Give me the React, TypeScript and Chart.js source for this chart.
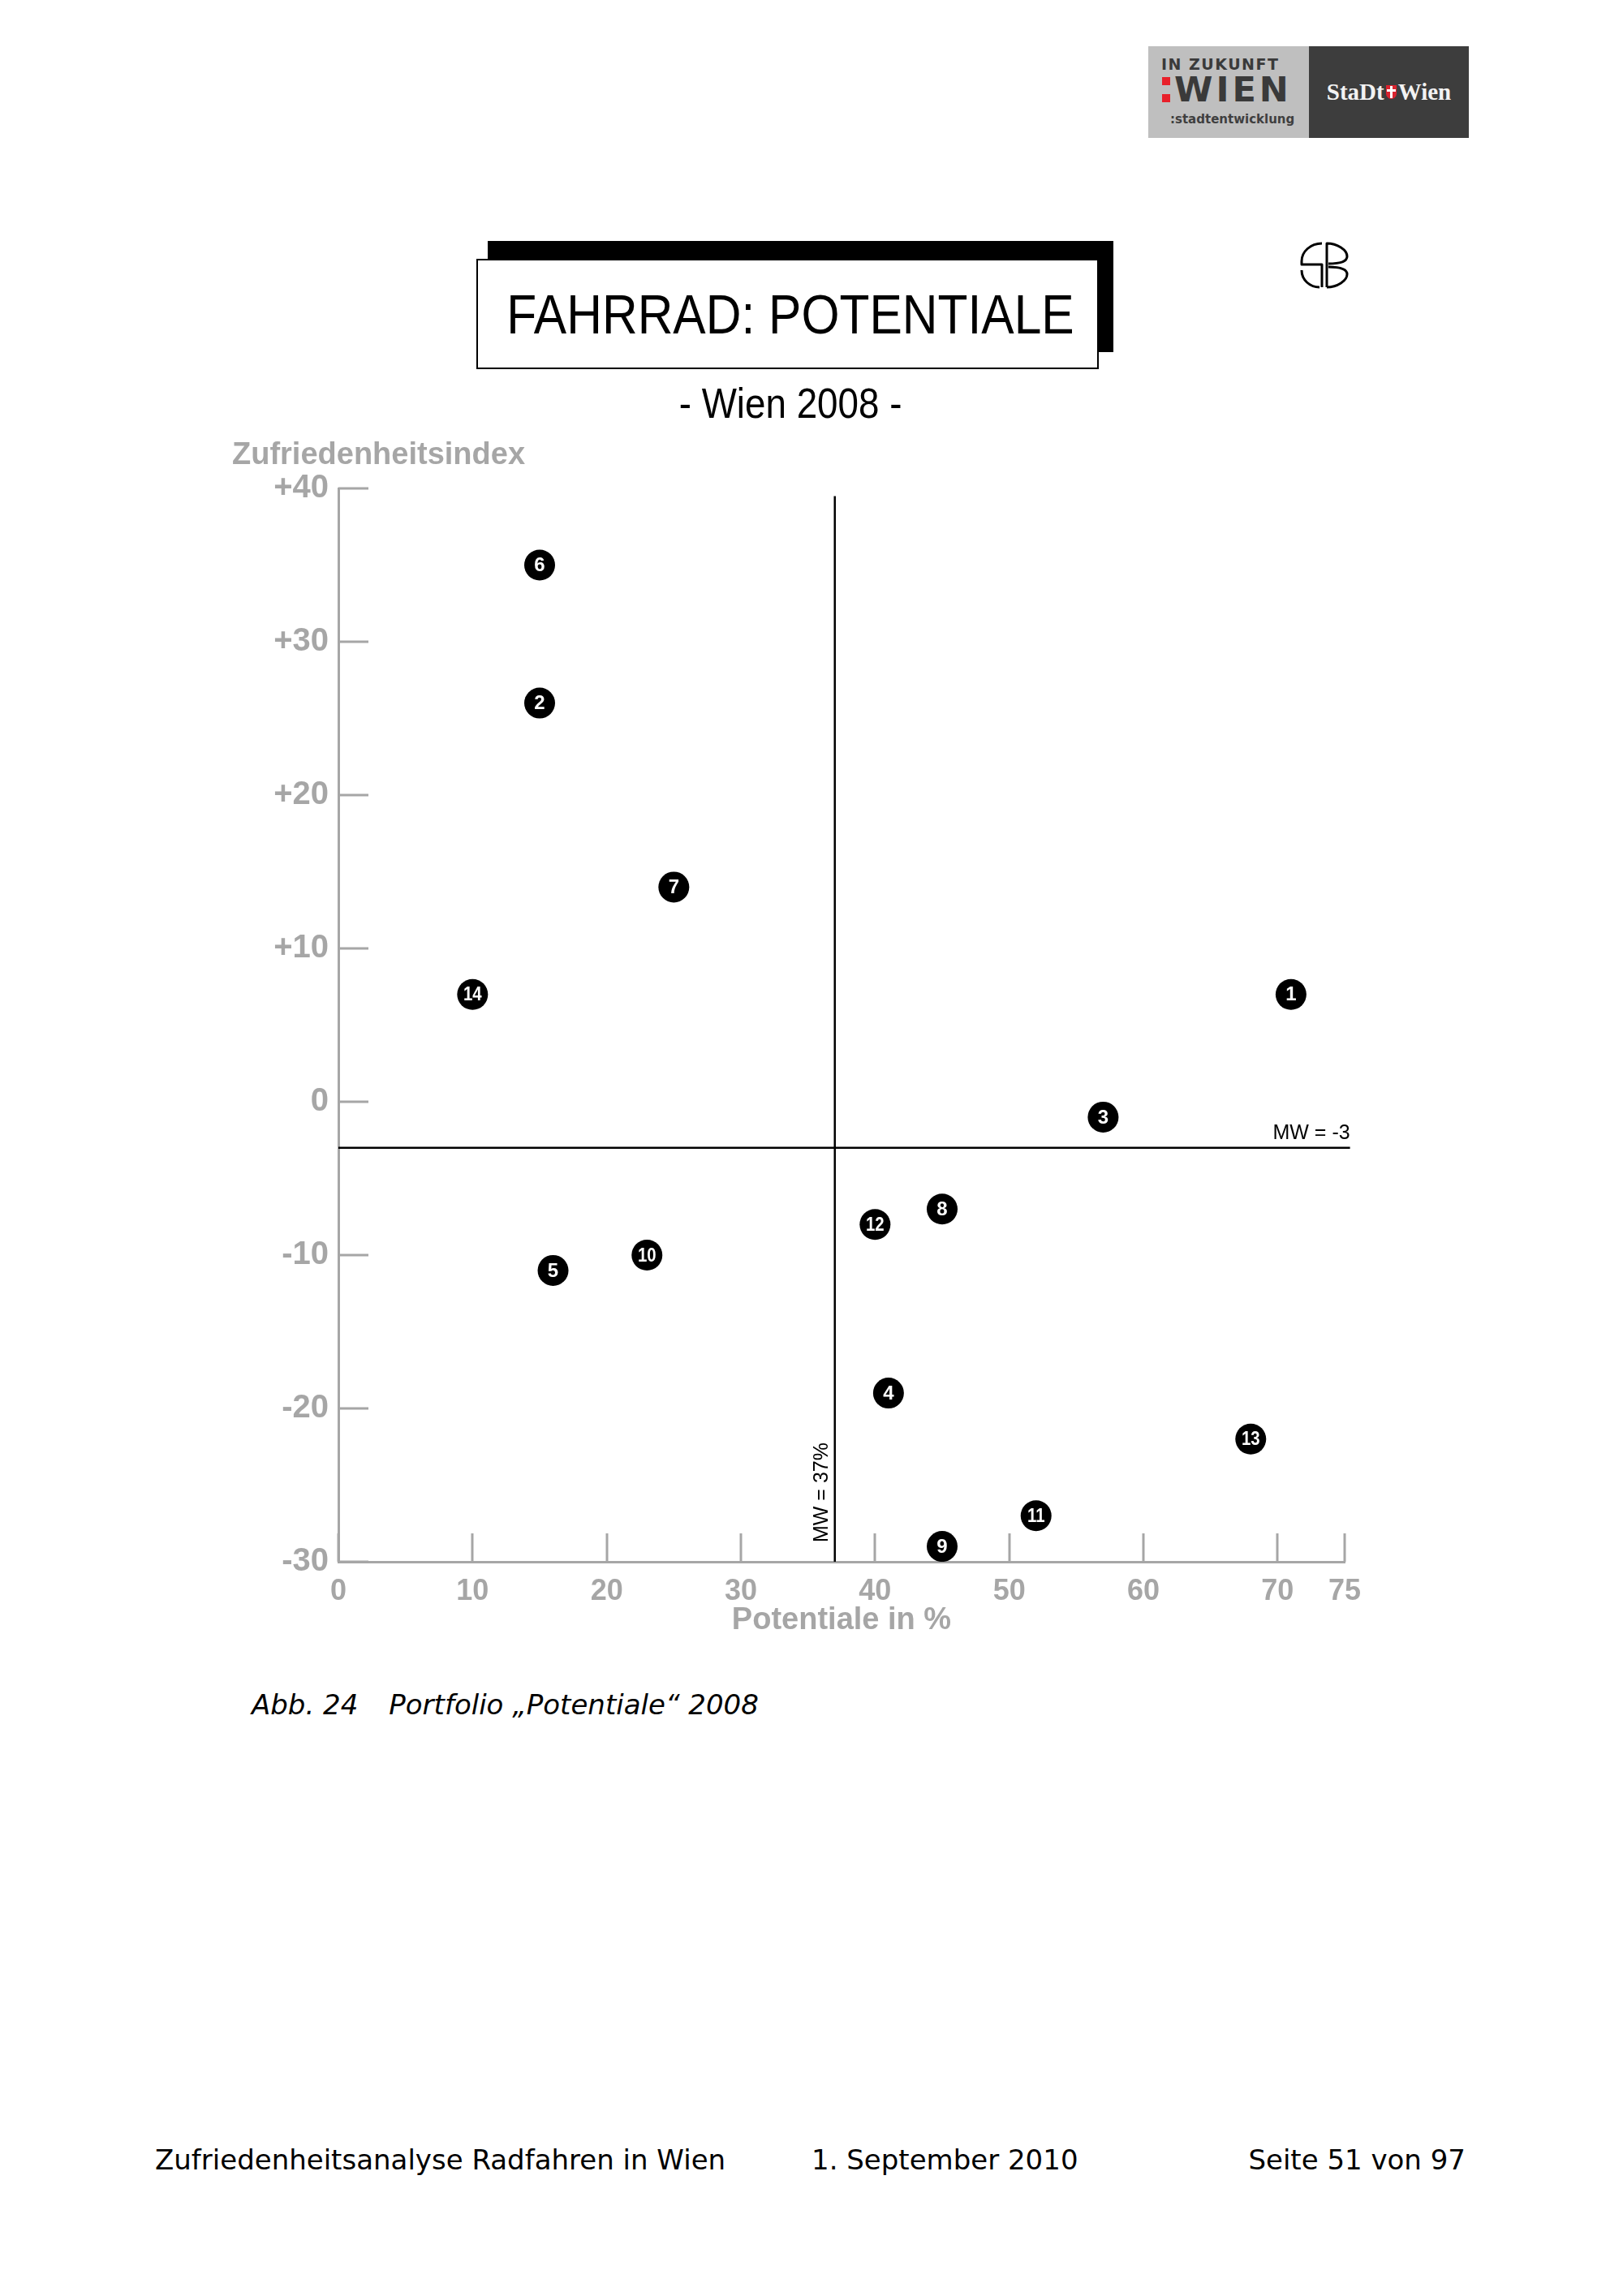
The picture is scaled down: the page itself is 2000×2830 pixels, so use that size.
import React, { useEffect, useRef } from 'react';
import { Chart, registerables } from 'chart.js';

Chart.register(...registerables);

// ---------- data ----------
const pointIds = ['1', '2', '3', '4', '5', '6', '7', '8', '9', '10', '11', '12', '13', '14'];
const potentiale = [71, 15, 57, 41, 16, 15, 25, 45, 45, 23, 52, 40, 68, 10];
const zufriedenheit = [7, 26, -1, -19, -11, 35, 14, -7, -29, -10, -27, -8, -22, 7];

const xTickValues = [0, 10, 20, 30, 40, 50, 60, 70, 75];
const xTickLabels = ['0', '10', '20', '30', '40', '50', '60', '70', '75'];
const yTickValues = [-30, -20, -10, 0, 10, 20, 30, 40];
const yTickLabels = ['-30', '-20', '-10', '0', '+10', '+20', '+30', '+40'];

const mwPotentiale = 37;
const mwZufriedenheit = -3;
const mwVerticalRange = [-30, 39.5];
const mwHorizontalRange = [0, 75.4];

const mwPotentialeLabel = 'MW = 37%';
const mwZufriedenheitLabel = 'MW = -3';
const yAxisTitle = 'Zufriedenheitsindex';
const xAxisTitle = 'Potentiale in %';

// ---------- styles ----------
const GRAY = '#a6a6a6';
const SANS = '"Liberation Sans", Arial, Helvetica, sans-serif';
const VERDANA = '"DejaVu Sans", Verdana, sans-serif';

const overlayPlugin = {
  id: 'overlay',
  beforeDatasetsDraw(chart: any) {
    const { ctx, chartArea, scales } = chart;
    const xs = scales.x;
    const ys = scales.y;
    ctx.save();
    ctx.strokeStyle = GRAY;
    ctx.lineWidth = 3;
    ctx.lineCap = 'butt';
    ys.ticks.forEach((t: any) => {
      const py = Math.round(ys.getPixelForValue(t.value));
      ctx.beginPath();
      ctx.moveTo(chartArea.left, py);
      ctx.lineTo(chartArea.left + 37, py);
      ctx.stroke();
    });
    xs.ticks.forEach((t: any) => {
      const px = Math.round(xs.getPixelForValue(t.value));
      ctx.beginPath();
      ctx.moveTo(px, chartArea.bottom);
      ctx.lineTo(px, chartArea.bottom - 35);
      ctx.stroke();
    });
    ctx.restore();
  },
  afterDatasetsDraw(chart: any) {
    const { ctx } = chart;
    const meta = chart.getDatasetMeta(2);
    ctx.save();
    ctx.fillStyle = '#ffffff';
    ctx.font = `bold 24px ${SANS}`;
    ctx.textAlign = 'center';
    ctx.textBaseline = 'middle';
    meta.data.forEach((el: any, i: number) => {
      const label = pointIds[i];
      if (label.length > 1) {
        ctx.save();
        ctx.translate(el.x, el.y + 1);
        ctx.scale(0.85, 1);
        ctx.fillText(label, 0, 0);
        ctx.restore();
      } else {
        ctx.fillText(label, el.x, el.y + 1);
      }
    });
    ctx.restore();
  },
  afterDraw(chart: any) {
    const { ctx, chartArea, scales } = chart;
    const xs = scales.x;
    const ys = scales.y;
    ctx.save();
    // y axis title (horizontal, above the axis)
    ctx.fillStyle = GRAY;
    ctx.font = `bold 38px ${SANS}`;
    ctx.textAlign = 'left';
    ctx.textBaseline = 'alphabetic';
    ctx.fillText(yAxisTitle, chartArea.left - 131, chartArea.top - 30);

    // MW labels
    ctx.fillStyle = '#000000';
    ctx.font = `25px ${SANS}`;
    ctx.textAlign = 'right';
    ctx.fillText(
      mwZufriedenheitLabel,
      xs.getPixelForValue(mwHorizontalRange[1]),
      ys.getPixelForValue(mwZufriedenheit) - 11
    );
    ctx.translate(xs.getPixelForValue(mwPotentiale) - 9, ys.getPixelForValue(mwVerticalRange[0]) - 24);
    ctx.rotate(-Math.PI / 2);
    ctx.textAlign = 'left';
    ctx.fillText(mwPotentialeLabel, 0, 0);
    ctx.restore();
  },
};

function PortfolioChart() {
  const ref = useRef<HTMLCanvasElement | null>(null);
  useEffect(() => {
    if (!ref.current) return;
    const chart = new Chart(ref.current, {
      type: 'scatter',
      data: {
        datasets: [
          {
            type: 'line',
            data: mwVerticalRange.map((y) => ({ x: mwPotentiale, y })),
            borderColor: '#000000',
            borderWidth: 2.5,
            pointRadius: 0,
            showLine: true,
            clip: false as any,
            order: 3,
          } as any,
          {
            type: 'line',
            data: mwHorizontalRange.map((x) => ({ x, y: mwZufriedenheit })),
            borderColor: '#000000',
            borderWidth: 2.5,
            pointRadius: 0,
            showLine: true,
            clip: false as any,
            order: 2,
          } as any,
          {
            type: 'scatter',
            data: potentiale.map((x, i) => ({ x, y: zufriedenheit[i] })),
            backgroundColor: '#000000',
            borderWidth: 0,
            pointRadius: 19,
            pointHoverRadius: 19,
            order: 1,
          } as any,
        ],
      },
      options: {
        animation: false,
        responsive: false,
        events: [],
        layout: { padding: { top: 102, right: 73, bottom: 0, left: 0 } },
        plugins: {
          legend: { display: false },
          tooltip: { enabled: false },
          title: { display: false },
        },
        scales: {
          x: {
            type: 'linear',
            min: 0,
            max: 75,
            grid: { display: false, drawTicks: false },
            border: { display: true, color: GRAY, width: 3 },
            afterBuildTicks: (s: any) => {
              s.ticks = xTickValues.map((v) => ({ value: v }));
            },
            afterFit: (s: any) => {
              s.height = 92;
            },
            ticks: {
              color: GRAY,
              padding: 15,
              autoSkip: false,
              maxRotation: 0,
              font: { family: SANS, size: 36, weight: 'bold' },
              callback: (_v: any, i: number) => xTickLabels[i],
            },
            title: {
              display: true,
              text: xAxisTitle,
              color: GRAY,
              font: { family: SANS, size: 38, weight: 'bold', lineHeight: 1 },
              padding: { top: 0, bottom: 0 },
            },
          },
          y: {
            type: 'linear',
            min: -30,
            max: 40,
            grid: { display: false, drawTicks: false },
            border: { display: true, color: GRAY, width: 3 },
            afterBuildTicks: (s: any) => {
              s.ticks = yTickValues.map((v) => ({ value: v }));
            },
            afterFit: (s: any) => {
              s.width = 187;
            },
            ticks: {
              color: GRAY,
              padding: 12,
              autoSkip: false,
              font: { family: SANS, size: 40, weight: 'bold' },
              callback: (_v: any, i: number) => yTickLabels[i],
            },
          },
        },
      } as any,
      plugins: [overlayPlugin],
    });
    return () => chart.destroy();
  }, []);
  return (
    <canvas
      ref={ref}
      width={1500}
      height={1517}
      style={{ position: 'absolute', left: 230, top: 500, width: 1500, height: 1517 }}
    />
  );
}

function Logo() {
  return (
    <div style={{ position: 'absolute', left: 1415, top: 57, width: 395, height: 113 }}>
      <div style={{ position: 'absolute', left: 0, top: 0, width: 198, height: 113, background: '#bfbfbf' }}>
        <div
          style={{
            position: 'absolute',
            left: 16,
            top: 12,
            font: `bold 19px ${VERDANA}`,
            letterSpacing: 1.5,
            color: '#3a3a3a',
            lineHeight: '20px',
            whiteSpace: 'nowrap',
          }}
        >
          IN ZUKUNFT
        </div>
        <div style={{ position: 'absolute', left: 17, top: 38, width: 10, height: 10, background: '#e8202a' }} />
        <div style={{ position: 'absolute', left: 17, top: 59, width: 10, height: 10, background: '#e8202a' }} />
        <div
          style={{
            position: 'absolute',
            left: 32,
            top: 32,
            font: `bold 43px ${VERDANA}`,
            letterSpacing: 4,
            color: '#3a3a3a',
            lineHeight: '43px',
            whiteSpace: 'nowrap',
          }}
        >
          WIEN
        </div>
        <div
          style={{
            position: 'absolute',
            left: 27,
            top: 81,
            font: `bold 15px ${VERDANA}`,
            color: '#3f3f3f',
            lineHeight: '18px',
            whiteSpace: 'nowrap',
          }}
        >
          :stadtentwicklung
        </div>
      </div>
      <div
        style={{
          position: 'absolute',
          left: 198,
          top: 0,
          width: 197,
          height: 113,
          background: '#3d3d3d',
          display: 'flex',
          alignItems: 'center',
          justifyContent: 'center',
          color: '#f2f2f2',
          font: `bold 29px "Liberation Serif", "DejaVu Serif", serif`,
          whiteSpace: 'nowrap',
        }}
      >
        <span>StaDt</span>
        <span
          style={{
            display: 'inline-block',
            width: 13,
            height: 17,
            background: '#d9232e',
            borderRadius: '0 0 7px 7px',
            margin: '0 2px',
            position: 'relative',
          }}
        >
          <span style={{ position: 'absolute', left: 5, top: 1, width: 3, height: 15, background: '#fff' }} />
          <span style={{ position: 'absolute', left: 1, top: 5, width: 11, height: 3, background: '#fff' }} />
        </span>
        <span>Wien</span>
      </div>
    </div>
  );
}

function SbIcon() {
  return (
    <svg
      width={64}
      height={64}
      viewBox="0 0 64 64"
      style={{ position: 'absolute', left: 1600, top: 295 }}
    >
      <g fill="none" stroke="#000" strokeWidth={3} strokeLinejoin="round">
        <path d="M29 5 C15 5 4 15 4 27 L4 31 L29 31 L29 59" />
        <path d="M4 38 C4 50 14 59 26 59" />
        <path d="M35 59 L35 5 C48 5 60 13 60 21 C60 27 53 30 37 30" />
        <path d="M37 34 C53 34 60 37 60 43 C60 51 48 59 35 59" />
      </g>
    </svg>
  );
}

export default function App() {
  return (
    <div
      style={{
        position: 'absolute',
        left: 0,
        top: 0,
        width: 2000,
        height: 2830,
        background: '#ffffff',
        overflow: 'hidden',
      }}
    >
      <Logo />
      <SbIcon />

      {/* title box with shadow */}
      <div style={{ position: 'absolute', left: 601, top: 297, width: 771, height: 137, background: '#000' }} />
      <div
        style={{
          position: 'absolute',
          left: 587,
          top: 319,
          width: 767,
          height: 136,
          boxSizing: 'border-box',
          border: '2px solid #000',
          background: '#fff',
          display: 'flex',
          alignItems: 'center',
          justifyContent: 'center',
        }}
      >
        <span
          style={{
            display: 'inline-block',
            font: `68px ${SANS}`,
            lineHeight: '68px',
            color: '#000',
            transform: 'scaleX(0.89)',
            whiteSpace: 'nowrap',
            marginLeft: 6,
          }}
        >
          FAHRRAD: POTENTIALE
        </span>
      </div>
      <div
        style={{
          position: 'absolute',
          left: 674,
          width: 600,
          top: 471,
          textAlign: 'center',
          font: `52px ${SANS}`,
          lineHeight: '52px',
          color: '#000',
        }}
      >
        <span style={{ display: 'inline-block', transform: 'scaleX(0.88)', whiteSpace: 'nowrap' }}>- Wien 2008 -</span>
      </div>

      <PortfolioChart />

      {/* caption */}
      <div
        style={{
          position: 'absolute',
          left: 310,
          top: 2084,
          font: `italic 34px ${VERDANA}`,
          lineHeight: '34px',
          color: '#000',
          whiteSpace: 'nowrap',
        }}
      >
        <span>Abb. 24</span>
        <span style={{ marginLeft: 38 }}>Portfolio „Potentiale“ 2008</span>
      </div>

      {/* footer */}
      <div
        style={{
          position: 'absolute',
          left: 191,
          top: 2645,
          font: `34px ${VERDANA}`,
          lineHeight: '34px',
          color: '#000',
          whiteSpace: 'nowrap',
        }}
      >
        Zufriedenheitsanalyse Radfahren in Wien
      </div>
      <div
        style={{
          position: 'absolute',
          left: 1000,
          top: 2645,
          font: `34px ${VERDANA}`,
          lineHeight: '34px',
          color: '#000',
          whiteSpace: 'nowrap',
        }}
      >
        1. September 2010
      </div>
      <div
        style={{
          position: 'absolute',
          right: 2000 - 1806,
          top: 2645,
          font: `34px ${VERDANA}`,
          lineHeight: '34px',
          color: '#000',
          whiteSpace: 'nowrap',
        }}
      >
        Seite 51 von 97
      </div>
    </div>
  );
}
